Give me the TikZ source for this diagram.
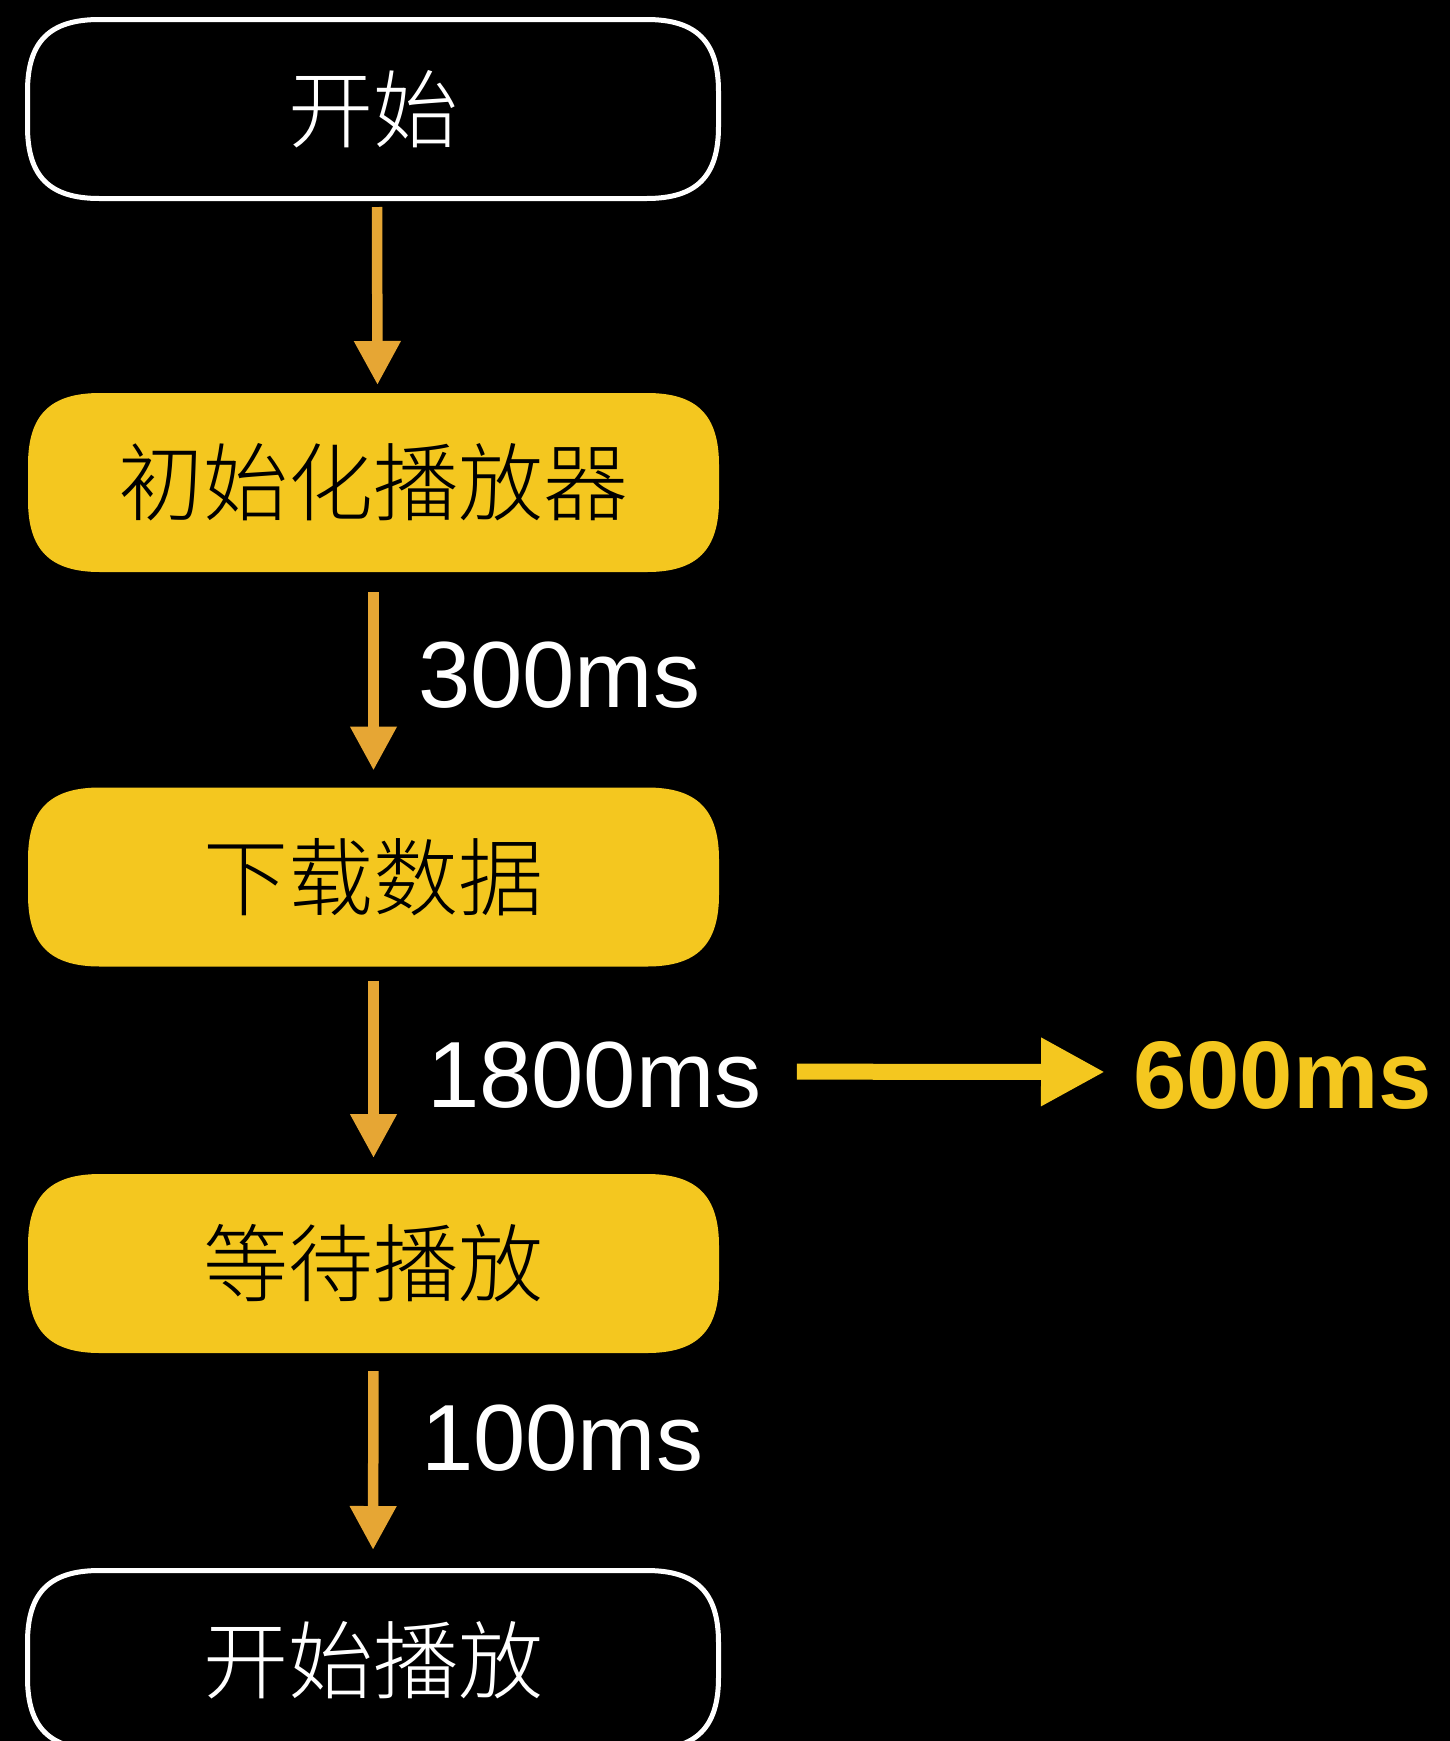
\documentclass[tikz,border=0pt]{standalone}
\usepackage{fontspec}
\setmainfont{Liberation Sans}
\IfFontExistsTF{Noto Sans CJK SC Light}{\newfontfamily\cjk{Noto Sans CJK SC Light}}{\newfontfamily\cjk{Noto Sans CJK SC}}
\usetikzlibrary{arrows.meta}
\pgfdeclarelayer{background}
\pgfsetlayers{background,main}
\definecolor{boxyellow}{HTML}{F4C71F}
\definecolor{arroworange}{HTML}{E6A634}
\newcommand\mysquircle[2]{%
  \begin{pgfonlayer}{background}
  \path[#2] ([xshift=72pt]#1.north west) -- ([xshift=-72pt]#1.north east)
   .. controls ([xshift=-22pt]#1.north east) and ([yshift=-22pt]#1.north east) .. ([yshift=-72pt]#1.north east)
   -- ([yshift=72pt]#1.south east)
   .. controls ([yshift=22pt]#1.south east) and ([xshift=-22pt]#1.south east) .. ([xshift=-72pt]#1.south east)
   -- ([xshift=72pt]#1.south west)
   .. controls ([xshift=22pt]#1.south west) and ([yshift=22pt]#1.south west) .. ([yshift=72pt]#1.south west)
   -- ([yshift=-72pt]#1.north west)
   .. controls ([yshift=-22pt]#1.north west) and ([xshift=22pt]#1.north west) .. ([xshift=72pt]#1.north west)
   -- cycle;
  \end{pgfonlayer}}
\begin{document}
\begin{tikzpicture}[x=1pt,y=-1pt,
  boxtext/.style={minimum width=691pt, minimum height=179pt, inner sep=0pt, outer sep=0pt, font=\cjk\fontsize{85}{100}\selectfont},
  yellowbox/.style={boxtext, text=black},
  whitebox/.style={boxtext, text=white},
  yellowfill/.style={fill=boxyellow},
  whiteline/.style={draw=white, line width=5pt, fill=black},
  lbl/.style={anchor=base west, inner sep=0pt, text=white, font=\fontsize{94}{110}\selectfont},
  boldlbl/.style={anchor=base west, inner sep=0pt, text=boxyellow, font=\bfseries\fontsize{96}{110}\selectfont},
  varr/.style={draw=arroworange, line width=10.5pt, -{Triangle[width=44pt,length=44pt]}},
  harr/.style={draw=boxyellow, line width=16pt, -{Triangle[width=64pt,length=64pt]}}
]
\useasboundingbox (0,0) rectangle (1450,1741);
\clip (0,0) rectangle (1450,1741);
\begin{pgfonlayer}{background}
\fill[black] (0,0) rectangle (1450,1741);
\end{pgfonlayer}

\node[whitebox] (start) at (373,109) {开始};
\node[yellowbox] (init) at (373.5,482.5) {初始化播放器};
\node[yellowbox] (down) at (373.5,877) {下载数据};
\node[yellowbox] (wait) at (373.5,1263.5) {等待播放};
\node[whitebox] (play) at (373,1660) {开始播放};
\mysquircle{start}{whiteline}
\mysquircle{init}{yellowfill}
\mysquircle{down}{yellowfill}
\mysquircle{wait}{yellowfill}
\mysquircle{play}{whiteline}

\node[lbl] (l1) at (418,707) {300ms};
\node[lbl] (l2) at (427,1107) {1800ms};
\node[boldlbl] (l3) at (1133,1108) {600ms};
\node[lbl] (l4) at (421,1470) {100ms};

\draw[varr, shorten <=8.5pt, shorten >=8pt] ([xshift=4pt]start.south) -- ([xshift=4pt]init.north);
\draw[varr, shorten <=20pt, shorten >=17pt] (init.south) -- (down.north);
\draw[varr, shorten <=14pt, shorten >=16pt] (down.south) -- (wait.north);
\draw[varr, shorten <=18pt, shorten >=20.5pt] (wait.south) -- (play.north);
\draw[harr, shorten <=35pt, shorten >=28pt] ([yshift=3pt]l2.east) -- ([yshift=3pt]l3.west);
\end{tikzpicture}
\end{document}
